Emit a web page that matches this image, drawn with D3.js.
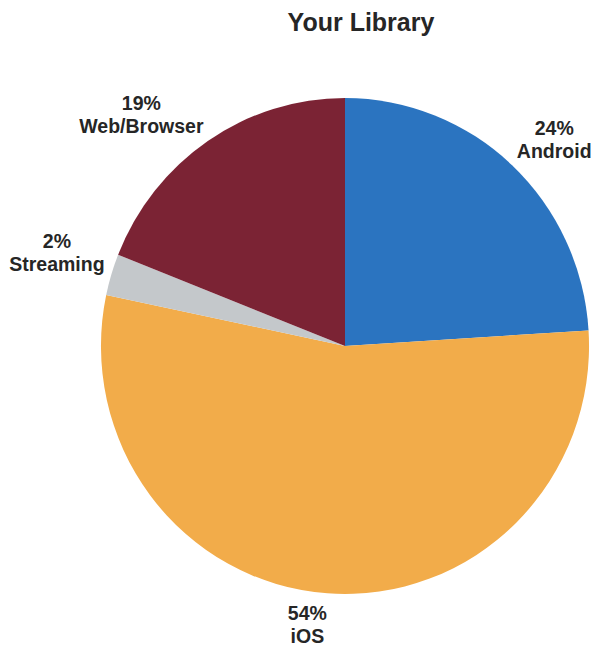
<!DOCTYPE html>
<html>
<head>
<meta charset="utf-8">
<script src="https://cdn.jsdelivr.net/npm/d3@7"></script>
<style>
  body { margin: 0; background: #fff; }
  text { font-family: "Liberation Sans", Arial, sans-serif; font-weight: bold; fill: #262626; }
</style>
</head>
<body>
<div id="chart"></div>
<script>
const categories = ["Android", "iOS", "Streaming", "Web/Browser"];
const values = [24.0, 54.3, 2.7, 19.0];
const pctLabels = ["24%", "54%", "2%", "19%"];
const colors = ["#2b74c0", "#f2ac4a", "#c4c8cb", "#7b2334"];

const width = 593, height = 647;
const cx = 345, cy = 346, radius = 248;
const squeezeX = 0.984; // the source pie is a touch narrower than tall

const svg = d3.select("#chart").append("svg")
  .attr("width", width).attr("height", height);

svg.append("text")
  .attr("x", 361).attr("y", 31)
  .attr("text-anchor", "middle")
  .style("font-size", "25px")
  .text("Your Library");

const pie = d3.pie().sort(null).value(d => d.value);
const arc = d3.arc().innerRadius(0).outerRadius(radius);

const data = categories.map((c, i) => ({ name: c, value: values[i], label: pctLabels[i], color: colors[i] }));
const arcs = pie(data);

const g = svg.append("g").attr("transform", `translate(${cx},${cy})`);

g.append("g").attr("transform", `scale(${squeezeX},1)`)
  .selectAll("path").data(arcs).join("path")
  .attr("d", arc)
  .attr("fill", d => d.data.color);

// labels sit just outside the rim, the box corner touching the mid-angle point
const gap = 7, lineH = 23;
const labels = g.selectAll("g.lbl").data(arcs).join("g").attr("class", "lbl");
labels.append("text").attr("class", "pct").attr("text-anchor", "middle")
  .style("font-size", "19.5px").attr("y", -4).text(d => d.data.label);
labels.append("text").attr("class", "nm").attr("text-anchor", "middle")
  .style("font-size", "19.5px").attr("y", lineH - 4).text(d => d.data.name);

labels.each(function (d) {
  const bb = this.getBBox();
  const a = (d.startAngle + d.endAngle) / 2;
  const ux = Math.sin(a), uy = -Math.cos(a);
  const px = ux * (radius * squeezeX + gap), py = uy * (radius + gap);
  const bx = px + Math.sign(ux) * bb.width / 2;
  const by = py + Math.sign(uy) * bb.height / 2;
  const ox = bx - (bb.x + bb.width / 2);
  const oy = by - (bb.y + bb.height / 2) + 2;
  d3.select(this).attr("transform", `translate(${ox},${oy})`);
});
</script>
</body>
</html>
